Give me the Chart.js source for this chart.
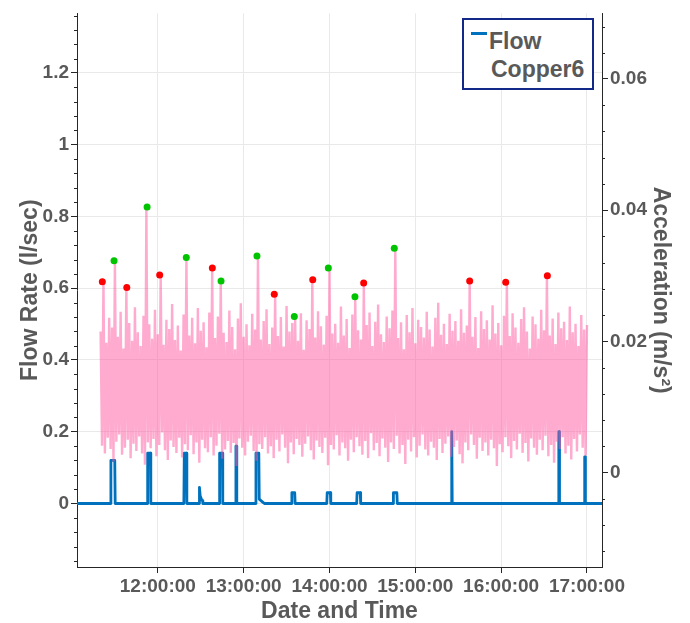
<!DOCTYPE html>
<html>
<head>
<meta charset="utf-8">
<script src="https://cdn.jsdelivr.net/npm/chart.js@4.4.1/dist/chart.umd.min.js"></script>
<style>
  body { margin: 0; background: #fff; }
  #wrap { position: relative; width: 690px; height: 623px; }
  #legend {
    position: absolute; left: 462px; top: 18px; width: 128px; height: 68px;
    border: 2px solid #12298a; background: #fff;
    font: bold 23px 'Liberation Sans', Arial, sans-serif; color: #595959; line-height: 1;
  }
  #legend .swatch { position: absolute; left: 7px; top: 12px; width: 16px; height: 3px; background: #0072bd; }
  #legend .l1 { position: absolute; left: 25px; top: 10px; }
  #legend .l2 { position: absolute; left: 27px; top: 38px; }
</style>
</head>
<body>
<div id="wrap">
  <canvas id="chart" width="690" height="623"></canvas>
  <div id="legend"><span class="swatch"></span><span class="l1">Flow</span><span class="l2">Copper6</span></div>
</div>
<script>
// time axis in minutes after midnight
const timeTickValues = [720, 780, 840, 900, 960, 1020];
const timeTickLabels = ['12:00:00', '13:00:00', '14:00:00', '15:00:00', '16:00:00', '17:00:00'];
const flowTickValues = [0, 0.2, 0.4, 0.6, 0.8, 1, 1.2];
const flowTickLabels = ['0', '0.2', '0.4', '0.6', '0.8', '1', '1.2'];
const accelTickValues = [0, 0.02, 0.04, 0.06];
const accelTickLabels = ['0', '0.02', '0.04', '0.06'];

// Flow (l/sec)
const flowTimes = [
  663.5, 686.9, 687.2, 689.9, 690.2,
  712.6, 712.9, 714.8, 715.1,
  738.2, 738.5, 740.0, 740.3,
  748.9, 749.1, 749.6, 750.5, 751.2, 751.5,
  762.9, 763.2, 765.1, 765.4,
  774.3, 774.6, 774.9, 775.2,
  788.3, 788.6, 790.6, 790.9, 793.3, 794.5,
  813.4, 813.7, 815.7, 816.0,
  838.1, 838.4, 840.6, 840.9,
  859.0, 859.3, 861.5, 861.8,
  884.4, 884.7, 887.1, 887.4,
  925.1, 925.3, 925.6, 925.8,
  1000.1, 1000.3, 1000.6, 1000.8,
  1018.2, 1018.4, 1018.7, 1018.9,
  1030.5
];
const flowValues = [
  0, 0, 0.12, 0.12, 0,
  0, 0.14, 0.14, 0,
  0, 0.14, 0.14, 0,
  0, 0.045, 0.022, 0.012, 0.008, 0,
  0, 0.14, 0.14, 0,
  0, 0.16, 0.16, 0,
  0, 0.14, 0.14, 0.012, 0.004, 0,
  0, 0.03, 0.03, 0,
  0, 0.03, 0.03, 0,
  0, 0.03, 0.03, 0,
  0, 0.03, 0.03, 0,
  0, 0.2, 0.2, 0,
  0, 0.2, 0.2, 0,
  0, 0.13, 0.13, 0,
  0
];

// Acceleration (m/s^2): upper and lower swings, one pair every 2 minutes from 11:20
const accelStart = 680;
const accelHigh = [
  0.0215, 0.0291, 0.0198, 0.0236, 0.0221, 0.0323, 0.0207, 0.0245, 0.0189, 0.0282,
  0.0228, 0.0201, 0.0252, 0.0214, 0.0193, 0.0239, 0.0405, 0.0226, 0.0204, 0.0248,
  0.0211, 0.0301, 0.0195, 0.0233, 0.0219, 0.0257, 0.0202, 0.0224, 0.0186, 0.0241,
  0.0328, 0.0209, 0.0236, 0.0197, 0.0251, 0.0216, 0.0229, 0.0191, 0.0244, 0.0312,
  0.0205, 0.0238, 0.0292, 0.0213, 0.0199, 0.0247, 0.0222, 0.0188, 0.0235, 0.0258,
  0.0207, 0.0226, 0.0194, 0.0242, 0.0218, 0.0330, 0.0203, 0.0231, 0.0249, 0.0196,
  0.0221, 0.0272, 0.0208, 0.0237, 0.0192, 0.0254, 0.0215, 0.0228, 0.0238, 0.0201,
  0.0243, 0.0187, 0.0232, 0.0219, 0.0294, 0.0206, 0.0246, 0.0223, 0.0195, 0.0239,
  0.0312, 0.0212, 0.0227, 0.0198, 0.0253, 0.0209, 0.0234, 0.0190, 0.0241, 0.0268,
  0.0217, 0.0203, 0.0289, 0.0225, 0.0244, 0.0193, 0.0230, 0.0256, 0.0211, 0.0199,
  0.0238, 0.0220, 0.0247, 0.0342, 0.0205, 0.0229, 0.0188, 0.0240, 0.0214, 0.0251,
  0.0197, 0.0233, 0.0222, 0.0206, 0.0245, 0.0218, 0.0192, 0.0236, 0.0259, 0.0210,
  0.0227, 0.0196, 0.0242, 0.0216, 0.0231, 0.0201, 0.0249, 0.0213, 0.0224, 0.0292,
  0.0207, 0.0237, 0.0190, 0.0246, 0.0219, 0.0232, 0.0203, 0.0255, 0.0212, 0.0228,
  0.0194, 0.0239, 0.0290, 0.0208, 0.0243, 0.0221, 0.0198, 0.0234, 0.0252, 0.0215,
  0.0189, 0.0238, 0.0226, 0.0204, 0.0248, 0.0217, 0.0300, 0.0209, 0.0235, 0.0196,
  0.0244, 0.0220, 0.0230, 0.0202, 0.0253, 0.0214, 0.0227, 0.0193, 0.0240, 0.0218,
  0.0225
];
const accelLow = [
  0.0041, 0.0029, 0.0053, 0.0036, 0.0017, 0.0047, 0.0058, 0.0027, 0.0038, 0.0050,
  0.0022, 0.0044, 0.0033, 0.0055, 0.0029, 0.0012, 0.0046, 0.0037, 0.0051, 0.0025,
  0.0042, 0.0061, 0.0034, 0.0019, 0.0049, 0.0039, 0.0030, 0.0053, 0.0023, 0.0043,
  0.0034, 0.0057, 0.0028, 0.0046, 0.0015, 0.0050, 0.0037, 0.0031, 0.0054, 0.0026,
  0.0041, 0.0059, 0.0021, 0.0035, 0.0048, 0.0030, 0.0045, 0.0010, 0.0052, 0.0038,
  0.0026, 0.0047, 0.0056, 0.0033, 0.0018, 0.0043, 0.0036, 0.0054, 0.0029, 0.0040,
  0.0022, 0.0050, 0.0032, 0.0058, 0.0038, 0.0014, 0.0046, 0.0028, 0.0051, 0.0042,
  0.0024, 0.0044, 0.0055, 0.0034, 0.0020, 0.0049, 0.0039, 0.0030, 0.0053, 0.0011,
  0.0042, 0.0035, 0.0057, 0.0026, 0.0046, 0.0037, 0.0018, 0.0050, 0.0031, 0.0054,
  0.0040, 0.0027, 0.0048, 0.0022, 0.0060, 0.0034, 0.0045, 0.0025, 0.0052, 0.0038,
  0.0016, 0.0046, 0.0036, 0.0056, 0.0029, 0.0042, 0.0013, 0.0050, 0.0032, 0.0054,
  0.0023, 0.0041, 0.0058, 0.0035, 0.0026, 0.0047, 0.0038, 0.0019, 0.0051, 0.0030,
  0.0044, 0.0055, 0.0024, 0.0039, 0.0049, 0.0028, 0.0014, 0.0046, 0.0034, 0.0058,
  0.0042, 0.0021, 0.0053, 0.0033, 0.0046, 0.0026, 0.0050, 0.0037, 0.0010, 0.0043,
  0.0031, 0.0054, 0.0040, 0.0022, 0.0048, 0.0035, 0.0059, 0.0030, 0.0045, 0.0017,
  0.0052, 0.0038, 0.0027, 0.0050, 0.0034, 0.0056, 0.0025, 0.0042, 0.0015, 0.0047,
  0.0036, 0.0054, 0.0029, 0.0041, 0.0020, 0.0051, 0.0032, 0.0058, 0.0038, 0.0026
];

// peak markers (acceleration), green = with flow event, red = without
const greenTimes = [689.4, 712.5, 739.9, 764.2, 789.3, 815.4, 839.2, 857.8, 885.3];
const greenValues = [0.0323, 0.0405, 0.0328, 0.0292, 0.0330, 0.0238, 0.0312, 0.0268, 0.0342];
const redTimes = [681.2, 698.3, 721.3, 758.1, 801.4, 828.3, 863.9, 938.0, 963.2, 992.3];
const redValues = [0.0291, 0.0282, 0.0301, 0.0312, 0.0272, 0.0294, 0.0289, 0.0292, 0.0290, 0.0300];

const textColor = '#595959';
const axisColor = '#262626';
const gridColor = '#e9e9e9';

Chart.defaults.font.family = "'Liberation Sans', Arial, sans-serif";
Chart.defaults.color = textColor;

const flowPoints = flowTimes.map((t, i) => ({ x: t, y: flowValues[i] }));
const accelPoints = [];
accelHigh.forEach((v, k) => {
  accelPoints.push({ x: accelStart + 2 * k, y: v });
  if (k < accelLow.length) accelPoints.push({ x: accelStart + 2 * k + 1, y: accelLow[k] });
});

function fixTicks(values) {
  return axis => { axis.ticks = values.map(v => ({ value: v })); };
}

// short minor ticks on both value axes
const minorTicks = {
  id: 'minorTicks',
  afterDraw(chart) {
    const ctx = chart.ctx;
    const y = chart.scales.y;
    const y2 = chart.scales.y2;
    ctx.save();
    ctx.strokeStyle = axisColor;
    ctx.lineWidth = 1;
    ctx.beginPath();
    for (let i = -4; i <= 34; i++) {
      if (i % 5 === 0) continue;
      const py = Math.round(y.getPixelForValue(i * 0.04)) + 0.5;
      ctx.moveTo(y.right - 3, py);
      ctx.lineTo(y.right, py);
    }
    for (let i = -3; i <= 17; i++) {
      if (i % 5 === 0) continue;
      const py = Math.round(y2.getPixelForValue(i * 0.004)) + 0.5;
      ctx.moveTo(y2.left, py);
      ctx.lineTo(y2.left + 3, py);
    }
    ctx.stroke();
    ctx.restore();
  }
};

new Chart(document.getElementById('chart'), {
  type: 'line',
  data: {
    datasets: [
      {
        label: 'Green peaks',
        type: 'scatter',
        data: greenTimes.map((t, i) => ({ x: t, y: greenValues[i] })),
        yAxisID: 'y2',
        backgroundColor: '#00c400',
        borderWidth: 0,
        pointRadius: 3.5,
        order: 0
      },
      {
        label: 'Red peaks',
        type: 'scatter',
        data: redTimes.map((t, i) => ({ x: t, y: redValues[i] })),
        yAxisID: 'y2',
        backgroundColor: '#ff0000',
        borderWidth: 0,
        pointRadius: 3.5,
        order: 0
      },
      {
        label: 'Acceleration',
        data: accelPoints,
        yAxisID: 'y2',
        borderColor: 'rgba(255, 88, 160, 0.5)',
        borderWidth: 2.4,
        pointRadius: 0,
        tension: 0,
        order: 1
      },
      {
        label: 'Flow Copper6',
        data: flowPoints,
        yAxisID: 'y',
        borderColor: '#0072bd',
        borderWidth: 2.8,
        borderJoinStyle: 'round',
        pointRadius: 0,
        tension: 0,
        order: 2
      }
    ]
  },
  options: {
    responsive: false,
    devicePixelRatio: 1,
    animation: false,
    layout: { padding: { top: 13, left: 0, right: 0, bottom: 0 } },
    plugins: { legend: { display: false }, tooltip: { enabled: false } },
    scales: {
      x: {
        type: 'linear',
        position: 'bottom',
        min: 663.5,
        max: 1030.5,
        afterBuildTicks: fixTicks(timeTickValues),
        afterFit: s => { s.height = 56; },
        ticks: { callback: (v, i) => timeTickLabels[i], font: { size: 19, weight: 'bold' }, padding: 2, maxRotation: 0, autoSkip: false },
        grid: { color: gridColor, tickColor: axisColor, tickLength: 6 },
        border: { color: axisColor },
        title: { display: true, text: 'Date and Time', font: { size: 23, weight: 'bold', lineHeight: 1 }, padding: { top: 0, bottom: 0 } }
      },
      y: {
        position: 'left',
        min: -0.177,
        max: 1.366,
        afterBuildTicks: fixTicks(flowTickValues),
        afterFit: s => { s.width = 77; },
        ticks: { callback: (v, i) => flowTickLabels[i], font: { size: 19, weight: 'bold' }, padding: 2 },
        grid: { color: gridColor, tickColor: axisColor, tickLength: 6 },
        border: { color: axisColor },
        title: { display: true, text: 'Flow Rate (l/sec)', font: { size: 23, weight: 'bold', lineHeight: 1 }, padding: { top: 19, bottom: 0 } }
      },
      y2: {
        position: 'right',
        min: -0.0144,
        max: 0.070,
        afterBuildTicks: fixTicks(accelTickValues),
        afterFit: s => { s.width = 88; },
        ticks: { callback: (v, i) => accelTickLabels[i], font: { size: 19, weight: 'bold' }, padding: 2 },
        grid: { drawOnChartArea: false, tickColor: axisColor, tickLength: 6 },
        border: { color: axisColor },
        title: { display: true, text: 'Acceleration (m/s²)', font: { size: 23, weight: 'bold', lineHeight: 1 }, padding: { top: 18, bottom: 0 } }
      }
    }
  },
  plugins: [minorTicks]
});
</script>
</body>
</html>
